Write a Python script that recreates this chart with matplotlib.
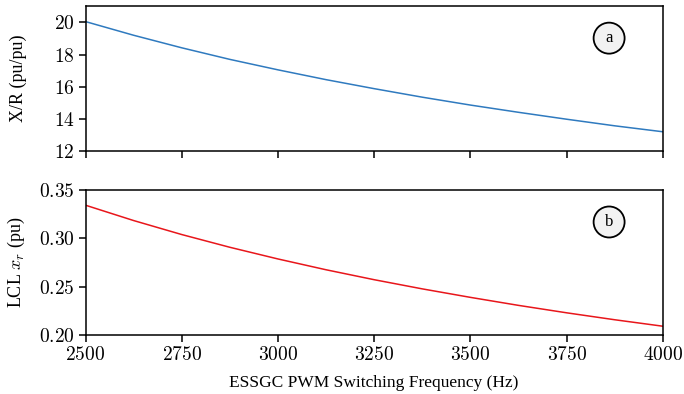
import numpy as np
import matplotlib
matplotlib.use("Agg")
import matplotlib.pyplot as plt
from matplotlib.ticker import FuncFormatter

plt.rcParams['font.family'] = ['Liberation Serif', 'DejaVu Serif']
plt.rcParams['mathtext.fontset'] = 'cm'

# data
freq = [2500, 2625, 2750, 2875, 3000, 3125, 3250, 3375, 3500, 3625, 3750, 3875, 4000]
x_over_r = [20.05, 19.20, 18.42, 17.70, 17.05, 16.44, 15.88, 15.35, 14.86, 14.41, 13.98, 13.57, 13.20]
lcl_xr = [0.3344, 0.3185, 0.3040, 0.2908, 0.2787, 0.2675, 0.2572, 0.2477, 0.2389, 0.2306, 0.2229, 0.2157, 0.2090]

xticks = [2500, 2750, 3000, 3250, 3500, 3750, 4000]
yticks_top = [12, 14, 16, 18, 20]
yticks_bot = [0.20, 0.25, 0.30, 0.35]

fig, (ax1, ax2) = plt.subplots(2, 1, figsize=(6.84, 3.94), dpi=100, sharex=True)
fig.subplots_adjust(left=0.125, right=0.969, top=0.984, bottom=0.15, hspace=0.27)

ax1.plot(freq, x_over_r, color='#2f7abf', lw=1.1)
ax2.plot(freq, lcl_xr, color='#e8161b', lw=1.1)

ax1.set_xlim(2500, 4000)
ax1.set_ylim(12, 21)
ax1.set_yticks(yticks_top)
ax2.set_ylim(0.20, 0.35)
ax2.set_yticks(yticks_bot)
ax2.set_xticks(xticks)

mfmt = lambda fmt: FuncFormatter(lambda v, p: '$' + format(v, fmt) + '$')
ax1.yaxis.set_major_formatter(mfmt('.0f'))
ax2.yaxis.set_major_formatter(mfmt('.2f'))
ax2.xaxis.set_major_formatter(mfmt('.0f'))

for ax in (ax1, ax2):
    ax.tick_params(labelsize=14, width=1.1, length=5, pad=3)
    for s in ax.spines.values():
        s.set_linewidth(1.1)

ax1.set_ylabel('X/R (pu/pu)', fontsize=13)
ax2.set_ylabel('LCL $x_r$ (pu)', fontsize=13)
ax2.set_xlabel('ESSGC PWM Switching Frequency (Hz)', fontsize=12.5, labelpad=8)
ax1.yaxis.set_label_coords(-0.102, 0.5)
ax2.yaxis.set_label_coords(-0.102, 0.5)

circ = dict(boxstyle='circle,pad=0.45', fc='#f2f2f2', ec='black', lw=1.3)
ax1.text(0.907, 0.78, 'a', transform=ax1.transAxes, ha='center', va='center', fontsize=12, bbox=circ)
ax2.text(0.907, 0.78, 'b', transform=ax2.transAxes, ha='center', va='center', fontsize=12, bbox=circ)

fig.savefig('out.png', dpi=100)
